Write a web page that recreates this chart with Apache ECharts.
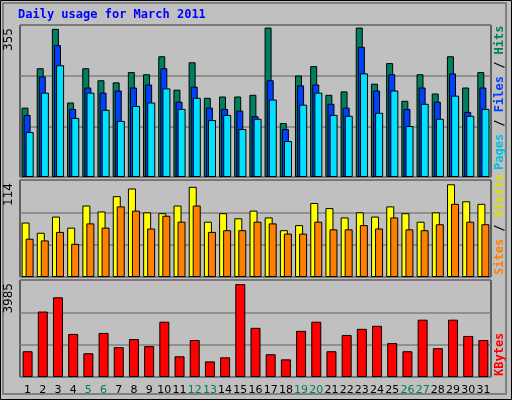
<!DOCTYPE html>
<html><head><meta charset="utf-8">
<script src="https://cdn.jsdelivr.net/npm/echarts@6/dist/echarts.min.js"></script>
<style>html,body{margin:0;padding:0;background:#c0c0c0}#c{width:512px;height:400px}</style>
</head><body><div id="c"></div>
<script>
var days=['1','2','3','4','5','6','7','8','9','10','11','12','13','14','15','16','17','18','19','20','21','22','23','24','25','26','27','28','29','30','31'];
var weekend=['5','6','12','13','19','20','26','27'];
var hits=[162,254,346,174,254,226,221,245,240,282,204,268,185,188,188,192,349,126,237,259,192,200,349,218,266,178,240,195,282,209,245];
var files=[145,235,308,159,209,197,202,209,216,254,176,211,162,159,155,142,226,112,214,216,171,162,304,202,240,159,209,176,242,152,209];
var pages=[105,197,261,138,197,157,131,166,174,207,159,185,133,145,112,136,181,84,169,197,145,143,242,150,202,119,171,136,190,143,159];
var visits=[64,52,71,58,84,77,95,104,76,75,84,106,65,75,69,78,70,55,61,87,81,70,76,71,83,75,65,76,109,89,86];
var sites=[45,43,53,39,63,58,83,78,57,72,65,84,53,55,55,65,63,51,51,65,56,56,61,57,70,56,55,62,86,65,62];
var kbytes=[1059,2689,3274,1770,975,1811,1226,1561,1268,2271,850,1519,641,808,3818,2020,934,725,1895,2271,1059,1728,1979,2104,1393,1059,2355,1184,2355,1686,1519];
var maxTop=355,maxMid=114,maxBot=3985;

var ch=echarts.init(document.getElementById('c'));
function xa(i,show){return {type:'category',gridIndex:i,data:days,axisTick:{show:false},axisLine:{show:false},
 axisLabel:{show:show,interval:0,fontFamily:'DejaVu Sans',fontSize:11,margin:8,color:function(v){return weekend.indexOf(v)>=0?'#00805c':'#000';}}};}
function ya(i,m){return {type:'value',gridIndex:i,min:0,max:m,interval:m/3,axisLabel:{show:false},axisLine:{show:false},axisTick:{show:false},
 splitLine:{lineStyle:{color:'#808080',width:1.5}}};}
function bar(name,data,ci,color,w,gap){return {type:'bar',name:name,data:data,xAxisIndex:ci,yAxisIndex:ci,barWidth:w,barGap:gap,
 itemStyle:{color:color,borderColor:'#000',borderWidth:1},animation:false};}
var lab=function(x,y,t){return {type:'text',x:x,y:y,rotation:Math.PI/2,style:{text:t,font:'12px DejaVu Sans',fill:'#000',align:'right',verticalAlign:'middle'}};};
function side(y,parts){return {type:'text',x:500,y:y,rotation:Math.PI/2,style:{text:parts.map(function(p,i){return '{'+'s'+i+'|'+p[0]+'}';}).join(''),
 rich:parts.reduce(function(o,p,i){o['s'+i]={fill:p[1],font:'bold 12px DejaVu Sans Mono'};return o;},{}),align:'left',verticalAlign:'middle'}};}
ch.setOption({
 backgroundColor:'#c0c0c0',
 grid:[{left:20,right:21,top:25,height:152,show:true,borderColor:'#000',borderWidth:1},
       {left:20,right:21,top:180,height:97,show:true,borderColor:'#000',borderWidth:1},
       {left:20,right:21,top:280,height:97,show:true,borderColor:'#000',borderWidth:1}],
 xAxis:[xa(0,false),xa(1,false),xa(2,true)],
 yAxis:[ya(0,maxTop),ya(1,maxMid),ya(2,maxBot)],
 series:[bar('Hits',hits,0,'#008060',7,'-70%'),bar('Files',files,0,'#0040ff',7,'-70%'),bar('Pages',pages,0,'#00e0ff',8,'-70%'),
   bar('Visits',visits,1,'#ffff00',8,'-50%'),bar('Sites',sites,1,'#ff8000',8,'-50%'),
   bar('KBytes',kbytes,2,'#ff0000',10,'0%')],
 graphic:[
  {type:'rect',shape:{x:0.5,y:0.5,width:511,height:399},style:{fill:null,stroke:'#000',lineWidth:1}},
  {type:'rect',shape:{x:3,y:3,width:503,height:391},style:{fill:null,stroke:'#808080',lineWidth:2}},
  {type:'text',x:18,y:9,style:{text:'Daily usage for March 2011',font:'bold 12px DejaVu Sans Mono',fill:'#0000ff'}},
  lab(9,28,'355'),lab(9,183,'114'),lab(9,283,'3985'),
  side(170,[['Pages','#00c0e0'],[' / ','#000'],['Files','#0040ff'],[' / ','#000'],['Hits','#008060']]),
  side(275,[['Sites','#ff8000'],[' / ','#000'],['Visits','#e0e000']]),
  side(376,[['KBytes','#ff0000']])
 ]
});
</script></body></html>
